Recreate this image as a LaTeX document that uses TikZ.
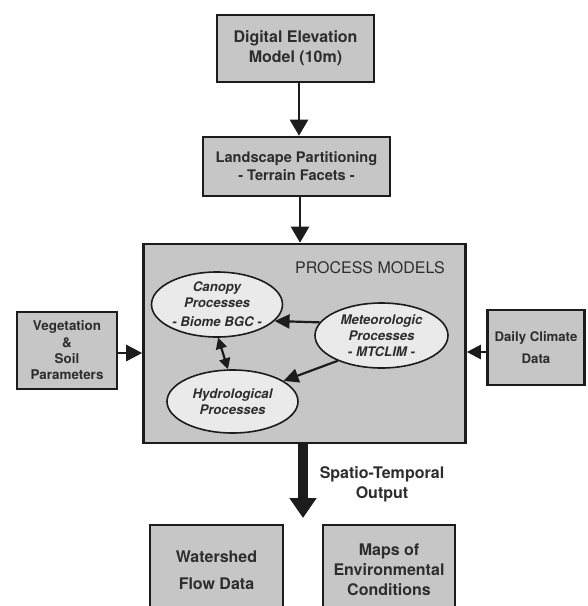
\documentclass[tikz,border=0pt]{standalone}
\usepackage{fontspec}
\setmainfont{TeX Gyre Heros}
\usetikzlibrary{arrows.meta,shapes.geometric}
\definecolor{boxgray}{RGB}{198,198,198}
\definecolor{ellgray}{RGB}{234,234,234}
\definecolor{ink}{RGB}{28,28,28}
\definecolor{txt}{RGB}{45,45,45}
\tikzset{
  boxnode/.style={draw=ink, line width=2.6pt, fill=boxgray, align=center, inner sep=0pt, text=txt, font=\bfseries},
  ellnode/.style={ellipse, draw=ink, line width=1.6pt, fill=ellgray, align=center, inner sep=0pt, text=txt, font=\bfseries\itshape\fontsize{13.2}{16}\selectfont},
  flow/.style={draw=ink, line width=2.6pt, -{Triangle[length=16pt,width=18pt]}},
  inner/.style={draw=ink, line width=2.2pt, -{Triangle[length=15pt,width=14pt]}},
  inner2/.style={draw=ink, line width=2.2pt, {Triangle[length=11pt,width=11pt]}-{Triangle[length=11pt,width=11pt]}},
}
\begin{document}
\begin{tikzpicture}[x=1pt,y=-1pt]
\useasboundingbox (0,0) rectangle (588,606);
\clip (0,0) rectangle (588,606);
\fill[white] (0,0) rectangle (588,606);

\node[boxnode, minimum width=157pt, minimum height=67pt, font=\bfseries\fontsize{16}{20}\selectfont] (dem) at (295.5,48.5) {Digital Elevation\\Model (10m)};
\node[boxnode, minimum width=187pt, minimum height=59pt, font=\bfseries\fontsize{14.6}{18}\selectfont] (land) at (296.5,166.5) {Landscape Partitioning\\- Terrain Facets -};
\node[boxnode, minimum width=322pt, minimum height=199pt] (proc) at (304.5,343.5) {};
\node[text=txt, font=\fontsize{16}{20}\selectfont, inner sep=0pt] (ptitle) at (370,268) {PROCESS MODELS};

\node[ellnode, minimum width=131pt, minimum height=65pt] (can) at (217,304.5) {Canopy\\Processes\\[3pt]- Biome BGC -};
\node[ellnode, minimum width=133pt, minimum height=65pt] (met) at (381.5,335.5) {Meteorologic\\Processes\\- MTCLIM -};
\node[ellnode, minimum width=131pt, minimum height=63pt] (hyd) at (232.5,401.5) {Hydrological\\Processes};

\node[boxnode, minimum width=100pt, minimum height=77pt, font=\bfseries\fontsize{13.4}{16.3}\selectfont] (veg) at (67,350.5) {Vegetation\\\&\\Soil\\Parameters};
\node[boxnode, minimum width=97pt, minimum height=75pt, font=\bfseries\fontsize{13.2}{22}\selectfont] (clim) at (536,347.5) {Daily Climate\\Data};

\node[boxnode, minimum width=133pt, minimum height=90pt, font=\bfseries\fontsize{16}{27}\selectfont] (wsh) at (216.5,570) {Watershed\\Flow Data};
\node[boxnode, minimum width=132pt, minimum height=90pt, font=\bfseries\fontsize{16}{20}\selectfont] (maps) at (389,570) {Maps of\\Environmental\\Conditions};

\node[text=txt, font=\bfseries\fontsize{16}{20}\selectfont, align=center, inner sep=0pt] (stout) at (382,484) {Spatio-Temporal\\Output};

% connectors
\draw[flow] (dem.south -| 299,0) -- (land.north -| 299,0);
\draw[flow] (land.south -| 300,0) -- (proc.north -| 300,0);
\draw[flow, -{Triangle[length=16pt,width=16pt]}] (veg.east |- 0,353) -- (proc.west |- 0,353);
\draw[flow, line width=2.3pt, -{Triangle[length=14pt,width=14pt]}] (clim.west |- 0,352) -- (proc.east |- 0,352);

\coordinate (outtip) at (303,518);
\draw[draw=ink, line width=10pt, -{Triangle[length=20pt,width=26pt]}] (proc.south -| outtip) -- (outtip);

\draw[inner] (met.168) -- (can.-16);
\draw[inner] (met.-150) -- (hyd.22);
\draw[inner2] (can.-88) -- (hyd.98);
\end{tikzpicture}
\end{document}
